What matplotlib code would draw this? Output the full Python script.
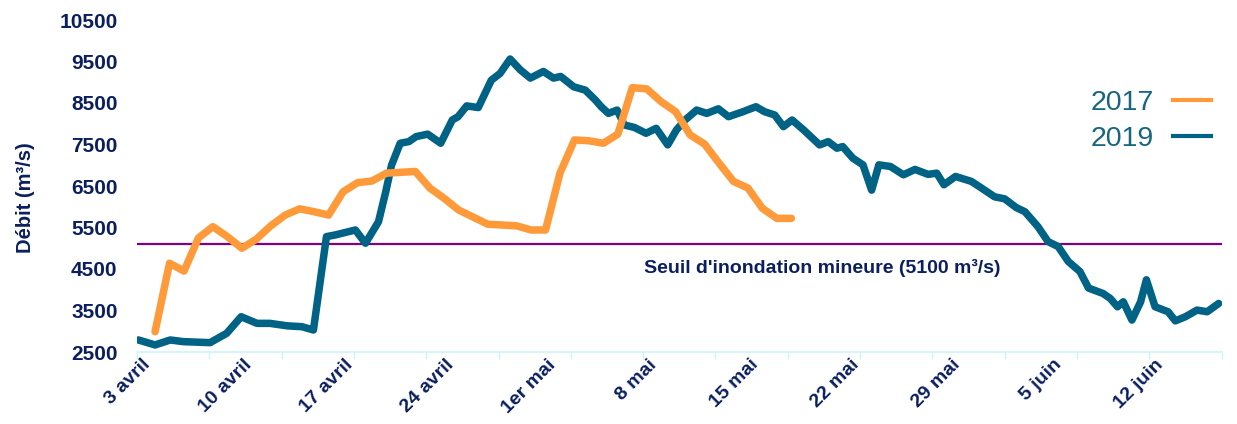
import matplotlib
matplotlib.use("Agg")
import matplotlib.pyplot as plt
from matplotlib.lines import Line2D
from matplotlib.transforms import ScaledTranslation

# jours comptés depuis le 3 avril
jours_2017 = [1.25, 2.25, 3.25, 4.25, 5.25, 6.25, 7.25, 8.25, 9.25, 10.25,
              11.25, 12.25, 13.25, 14.25, 15.25, 16.25, 17.25, 18.25, 19.25, 20.25,
              21.25, 22.25, 23.25, 24.25, 25.25, 26.25, 27.25, 28.25, 29.25, 30.25,
              31.25, 32.25, 33.25, 34.25, 35.25, 36.25, 37.25, 38.25, 39.25, 40.25,
              41.25, 42.25, 43.25, 44.25, 45.25]
debit_2017 = [2990, 4640, 4450, 5250, 5520, 5280, 5000, 5220, 5540, 5800,
              5950, 5880, 5800, 6360, 6580, 6620, 6810, 6830, 6850, 6450,
              6200, 5920, 5750, 5580, 5560, 5540, 5440, 5440, 6810, 7610,
              7590, 7530, 7750, 8870, 8840, 8530, 8290, 7730, 7510, 7050,
              6610, 6450, 5960, 5720, 5720]

jours_2019 = [0.1, 1.25, 2.3, 3.2, 5.05, 6.2, 7.2, 8.3, 9.2, 10.4,
              11.4, 12.2, 13.1, 13.7, 15.1, 15.8, 16.7, 17.2, 17.6, 18.2,
              18.8, 19.3, 20.1, 21.0, 21.8, 22.2, 22.8, 23.6, 24.5, 25.1,
              25.8, 26.5, 27.2, 28.1, 28.8, 29.3, 30.2, 31.0, 31.7, 32.1,
              32.6, 33.2, 33.7, 34.4, 35.2, 35.9, 36.7, 37.3, 37.9, 38.7,
              39.4, 40.2, 40.9, 41.9, 42.8, 43.4, 44.1, 44.7, 45.3, 46.1,
              47.2, 47.8, 48.4, 48.8, 49.5, 50.2, 50.8, 51.3, 52.1, 53.0,
              53.8, 54.7, 55.3, 55.8, 56.6, 57.7, 58.4, 59.3, 60.0, 60.8,
              61.4, 62.3, 63.0, 63.7, 64.4, 65.2, 65.8, 66.8, 67.3, 67.8,
              68.2, 68.8, 69.4, 69.8, 70.4, 71.0, 71.3, 71.8, 72.5, 73.3,
              74.0, 74.8]
debit_2019 = [2790, 2670, 2790, 2750, 2725, 2950, 3350, 3190, 3190, 3130,
              3110, 3030, 5280, 5320, 5440, 5120, 5640, 6360, 7000, 7530,
              7570, 7690, 7750, 7530, 8090, 8170, 8430, 8390, 9050, 9210,
              9560, 9300, 9100, 9260, 9100, 9140, 8890, 8810, 8570, 8410,
              8250, 8330, 7970, 7910, 7770, 7890, 7490, 7850, 8090, 8330,
              8250, 8360, 8170, 8290, 8410, 8290, 8210, 7930, 8090, 7850,
              7490, 7570, 7410, 7450, 7170, 7010, 6400, 7010, 6970, 6770,
              6900, 6780, 6810, 6530, 6730, 6610, 6450, 6240, 6190, 5980,
              5880, 5520, 5160, 5040, 4680, 4440, 4040, 3910, 3790, 3590,
              3710, 3270, 3710, 4240, 3590, 3510, 3470, 3250, 3350, 3510,
              3470, 3670]

seuil = 5100
seuil_txt = "Seuil d'inondation mineure (5100 m³/s)"

pos_labels = [0, 7, 14, 21, 28, 35, 42, 49, 56, 63, 70]
dates = ["3 avril", "10 avril", "17 avril", "24 avril", "1er mai", "8 mai",
         "15 mai", "22 mai", "29 mai", "5 juin", "12 juin"]
y_ticks = [2500, 3500, 4500, 5500, 6500, 7500, 8500, 9500, 10500]

navy = '#0b1f5e'
teal = '#006284'
orange = '#ff9a3a'
cyan = '#cdf4f9'

plt.rcParams['font.family'] = ['Liberation Sans', 'DejaVu Sans']

fig = plt.figure(figsize=(12.37, 4.24), dpi=100, facecolor='w')
ax = fig.add_axes([137/1237, 1 - 352/424, 1084.6/1237, 332/424])

ax.plot(jours_2019, debit_2019, color=teal, lw=5.4, solid_capstyle='round',
        solid_joinstyle='round', zorder=3)
ax.plot(jours_2017, debit_2017, color=orange, lw=5.4, solid_capstyle='round',
        solid_joinstyle='round', zorder=4)
ax.axhline(seuil, color='#800080', lw=1.6, zorder=2)
ax.text(47.4, 4520, seuil_txt, ha='center', va='center', fontsize=14,
        fontweight='bold', color=navy)

ax.set_xlim(0, 75)
ax.set_ylim(2500, 10500)

# ticks tous les 5 jours, étiquettes tous les 7
ax.xaxis.remove_overlapping_locs = False
ax.set_xticks(range(0, 76, 5))
ax.set_xticklabels([])
ax.set_xticks(pos_labels, minor=True)
ax.set_xticklabels(dates, minor=True, rotation=45, ha='right', va='top',
                   rotation_mode='anchor', fontsize=14, fontweight='bold', color=navy)
ax.tick_params(axis='x', which='major', length=5, width=1, color=cyan, direction='out')
ax.tick_params(axis='x', which='minor', length=0, pad=3)
for lab in ax.get_xticklabels(minor=True):
    lab.set_transform(lab.get_transform() + ScaledTranslation(0.05, 0, fig.dpi_scale_trans))

ax.set_yticks(y_ticks)
ax.set_yticklabels([str(v) for v in y_ticks], fontsize=15, fontweight='bold', color=navy)
ax.tick_params(axis='y', length=0, pad=14)

for s in ['top', 'right', 'left']:
    ax.spines[s].set_visible(False)
ax.spines['bottom'].set_color(cyan)
ax.spines['bottom'].set_linewidth(1.2)

ax.set_ylabel("Débit (m³/s)", fontsize=14.5, fontweight='bold', color=navy)
ax.yaxis.set_label_coords(-0.094, 0.464)

handles = [Line2D([], [], color=orange, lw=3), Line2D([], [], color=teal, lw=3)]
ax.legend(handles, ['2017', '2019'], markerfirst=False, frameon=False,
          loc='upper right', bbox_to_anchor=(1211/1237, 1 - 90/424),
          bbox_transform=fig.transFigure, fontsize=20.5, labelcolor='#17657f',
          handlelength=1.35, handletextpad=0.65, labelspacing=0.35,
          borderpad=0, borderaxespad=0)

fig.savefig('out.png', dpi=100)
